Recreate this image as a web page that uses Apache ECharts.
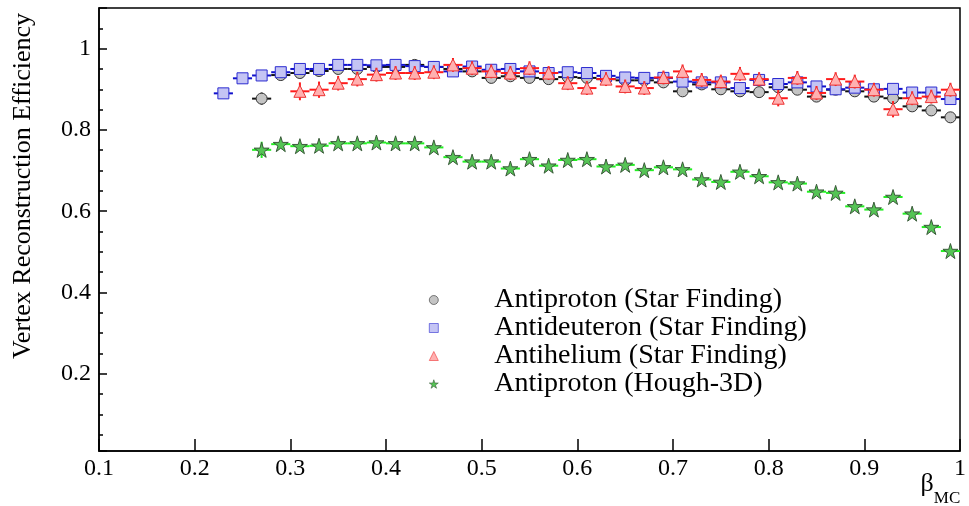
<!DOCTYPE html>
<html><head><meta charset="utf-8">
<script src="https://cdn.jsdelivr.net/npm/echarts@6/dist/echarts.min.js"></script>
<style>html,body{margin:0;padding:0;background:#fff}#c{width:969px;height:506px}</style>
</head><body><div id="c"></div><script>
// ---- data ----
const beta = [0.23,0.25,0.27,0.29,0.31,0.33,0.35,0.37,0.39,0.41,0.43,0.45,0.47,0.49,0.51,0.53,0.55,0.57,0.59,0.61,0.63,0.65,0.67,0.69,0.71,0.73,0.75,0.77,0.79,0.81,0.83,0.85,0.87,0.89,0.91,0.93,0.95,0.97,0.99];
const binHalfWidth = 0.01;
const pbarStar = [null,null,0.877,0.935,0.940,0.945,0.950,0.950,0.955,0.955,0.960,0.955,0.950,0.944,0.928,0.932,0.928,0.925,0.930,0.928,0.925,0.922,0.922,0.917,0.895,0.912,0.900,0.895,0.893,0.905,0.899,0.882,0.899,0.895,0.882,0.878,0.858,0.848,0.831];
const pbarStarErr = [0,0,0.015,0.006,0.005,0.005,0.005,0.005,0.005,0.005,0.005,0.005,0.005,0.005,0.005,0.005,0.005,0.005,0.005,0.005,0.005,0.005,0.005,0.005,0.005,0.005,0.005,0.005,0.005,0.005,0.005,0.005,0.005,0.005,0.005,0.005,0.005,0.005,0.005];
const dbarStar = [0.890,0.927,0.934,0.942,0.950,0.950,0.960,0.960,0.959,0.960,0.957,0.955,0.944,0.956,0.948,0.950,0.944,0.940,0.942,0.940,0.933,0.929,0.928,0.928,0.919,0.917,0.917,0.903,0.923,0.913,0.917,0.907,0.900,0.904,0.900,0.901,0.892,0.892,0.876];
const dbarStarErr = [0.006,0.005,0.005,0.005,0.005,0.005,0.005,0.005,0.005,0.005,0.005,0.005,0.005,0.005,0.005,0.005,0.005,0.005,0.005,0.005,0.005,0.005,0.005,0.005,0.005,0.005,0.005,0.005,0.005,0.005,0.005,0.005,0.005,0.005,0.005,0.005,0.005,0.005,0.005];
const hebarStar = [null,null,null,null,0.895,0.899,0.915,0.925,0.936,0.940,0.940,0.942,0.960,0.952,0.944,0.940,0.952,0.940,0.915,0.903,0.925,0.907,0.903,0.929,0.944,0.923,0.919,0.938,0.925,0.878,0.928,0.891,0.925,0.919,0.899,0.851,0.878,0.882,0.899];
const hebarStarErr = [0,0,0,0,0.022,0.020,0.018,0.018,0.017,0.017,0.017,0.017,0.017,0.017,0.017,0.017,0.017,0.017,0.017,0.017,0.017,0.017,0.017,0.017,0.017,0.017,0.017,0.017,0.017,0.020,0.017,0.017,0.017,0.017,0.017,0.020,0.017,0.017,0.017];
const pbarHough = [null,null,0.751,0.765,0.760,0.761,0.767,0.767,0.769,0.767,0.767,0.757,0.733,0.722,0.722,0.705,0.728,0.712,0.726,0.728,0.710,0.714,0.701,0.708,0.703,0.678,0.672,0.697,0.686,0.671,0.668,0.648,0.645,0.612,0.604,0.635,0.594,0.561,0.502];
const pbarHoughErr = [0,0,0.02,0.008,0.008,0.008,0.008,0.008,0.008,0.008,0.008,0.008,0.008,0.008,0.008,0.008,0.008,0.008,0.008,0.008,0.008,0.008,0.008,0.008,0.008,0.008,0.008,0.008,0.008,0.008,0.008,0.008,0.008,0.008,0.008,0.008,0.008,0.008,0.008];
const yTickLabels = ['0.2','0.4','0.6','0.8','1'];
const xTickLabels = ['0.1','0.2','0.3','0.4','0.5','0.6','0.7','0.8','0.9','1'];
const names = ['Antiproton (Star Finding)','Antideuteron (Star Finding)','Antihelium (Star Finding)','Antiproton (Hough-3D)'];

// ---- build ----
const FONT = 'Liberation Serif';
const STAR = 'path://M50,0 L61,35 L98,35 L68,57 L79,91 L50,70 L21,91 L32,57 L2,35 L39,35 Z';
function pts(vals, errs){ const out=[]; beta.forEach((b,i)=>{ if(vals[i]!=null) out.push([b, vals[i], errs[i]]); }); return out; }
function errRender(color, lw){
  return function(params, api){
    const x = api.value(0), y = api.value(1), ey = api.value(2);
    const l = api.coord([x - binHalfWidth, y]), r = api.coord([x + binHalfWidth, y]);
    const t = api.coord([x, y + ey]), b = api.coord([x, y - ey]);
    return {type:'group', children:[
      {type:'line', shape:{x1:l[0],y1:l[1],x2:r[0],y2:r[1]}, style:{stroke:color, lineWidth:lw}},
      {type:'line', shape:{x1:t[0],y1:t[1],x2:b[0],y2:b[1]}, style:{stroke:color, lineWidth:lw}}
    ]};
  };
}
const defs = [
  {vals:pbarStar, errs:pbarStarErr, bar:'#111111', sym:'circle', size:11, fill:'#c4c4c4', border:'#333333'},
  {vals:dbarStar, errs:dbarStarErr, bar:'#1010cc', sym:'rect', size:11, fill:'#c4c4f4', border:'#2b2bd0'},
  {vals:hebarStar, errs:hebarStarErr, bar:'#ff1a1a', sym:'triangle', size:12, fill:'#ffb0b0', border:'#ee3333'},
  {vals:pbarHough, errs:pbarHoughErr, bar:'#22ee22', sym:STAR, size:15, fill:'#55c455', border:'#3a5a3a'}
];
const series = [];
defs.forEach((d,k)=>{
  const data = pts(d.vals, d.errs);
  series.push({type:'custom', name:'err'+k, z:2*k+1, renderItem:errRender(d.bar, 2), data:data, encode:{x:0,y:1}, silent:true});
  series.push({type:'scatter', name:names[k], z:2*k+2, symbol:d.sym, symbolSize:d.size, data:data.map(p=>[p[0],p[1]]),
    itemStyle:{color:d.fill, borderColor:d.border, borderWidth:1, opacity:1}});
});

const chart = echarts.init(document.getElementById('c'), null, {renderer:'canvas'});
chart.setOption({
  animation:false,
  backgroundColor:'#fff',
  grid:{left:99, right:1, top:8, bottom:55, show:true, borderColor:'#000', borderWidth:1.5, backgroundColor:'transparent'},
  xAxis:{type:'value', min:0.1, max:1.0, interval:0.1,
    axisLine:{lineStyle:{color:'#000', width:1.5}},
    axisTick:{inside:true, length:12, lineStyle:{color:'#000', width:1.5}},
    splitLine:{show:false},
    axisLabel:{margin:6, color:'#000', fontFamily:FONT, fontSize:24,
      formatter:v=>{ const i=Math.round((v-0.1)/0.1); return (Math.abs(v-(0.1+i*0.1))<1e-6 && xTickLabels[i]!==undefined)?xTickLabels[i]:''; }}
  },
  yAxis:{type:'value', min:0.01, max:1.1, splitNumber:5,
    axisLine:{lineStyle:{color:'#000', width:1.5}},
    axisTick:{inside:true, length:8, lineStyle:{color:'#000', width:1.5}},
    minorTick:{show:true, splitNumber:4, length:4, lineStyle:{color:'#000', width:1.5}},
    splitLine:{show:false},
    axisLabel:{margin:8, color:'#000', fontFamily:FONT, fontSize:24,
      formatter:v=>{ const i=Math.round(v/0.2)-1; return (Math.abs(v-0.2*(i+1))<1e-6 && yTickLabels[i]!==undefined)?yTickLabels[i]:''; }}
  },
  legend:{orient:'vertical', left:424, top:281, itemWidth:9, itemHeight:9, itemGap:0,
    data:names, selectedMode:false, itemStyle:{borderWidth:0.6},
    textStyle:{fontFamily:FONT, fontSize:28, color:'#000', lineHeight:27, padding:[0,0,0,51]}
  },
  graphic:[
    {type:'text', x:23, y:186, rotation:Math.PI/2, style:{text:'Vertex Reconstruction Efficiency', fontFamily:FONT, fontSize:26, fill:'#000', align:'center', verticalAlign:'middle'}},
    {type:'text', x:927, y:484, style:{text:'β', fontFamily:FONT, fontSize:26, fill:'#000', align:'center', verticalAlign:'middle'}},
    {type:'text', x:947, y:499, style:{text:'MC', fontFamily:FONT, fontSize:17, fill:'#000', align:'center', verticalAlign:'middle'}}
  ],
  series:series
});
</script></body></html>
